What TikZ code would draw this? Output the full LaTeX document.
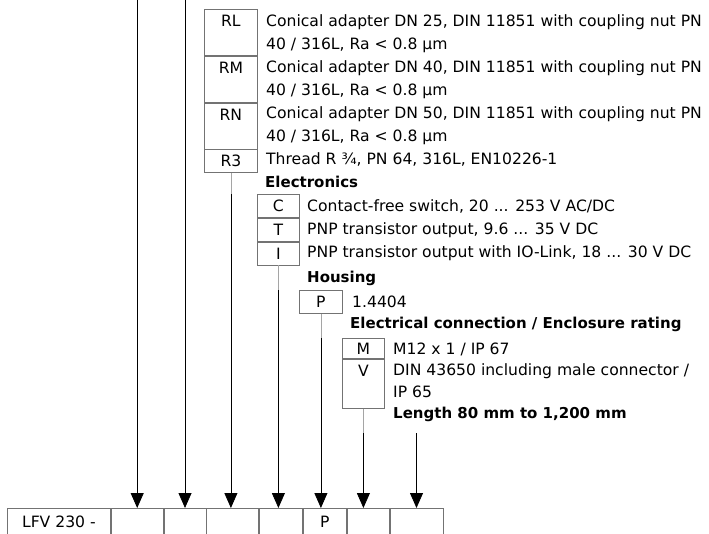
\documentclass[tikz,border=0pt]{standalone}
\usepackage{fontspec}
\setmainfont{DejaVu Sans}
\usetikzlibrary{calc,arrows.meta}
\definecolor{framegray}{RGB}{115,115,115}
\definecolor{stemgray}{RGB}{165,165,165}

\tikzset{
  cell/.style={draw=framegray, line width=0.8pt, anchor=north west, inner sep=0pt,
    text height=17pt, text depth=#1, font=\fontsize{15.6}{23}\selectfont},
  cell/.default=6pt,
  desc/.style={anchor=base west, inner sep=0pt, align=left, font=\fontsize{15.6}{23}\selectfont},
  head/.style={anchor=base west, inner sep=0pt, font=\fontsize{15}{18}\selectfont\bfseries},
  stem/.style={stemgray, line width=0.8pt},
  feed/.style={black, line width=0.8pt, -{Triangle[length=15pt, width=13pt]}},
}

\begin{document}
\begin{tikzpicture}[x=1pt, y=-1pt]
\useasboundingbox (0,0) rectangle (709,533);

% Process connection (two-line texts sit on their last baseline)
\node[cell=29pt, minimum width=53pt] (RL) at (204,9) {RL};
\node[cell=29pt, minimum width=53pt] (RM) at (RL.south west) {RM};
\node[cell=29pt, minimum width=53pt] (RN) at (RM.south west) {RN};
\node[cell, minimum width=53pt] (R3) at (RN.south west) {R3};
\node[desc] (dRL) at (266,49) {Conical adapter DN 25, DIN 11851 with coupling nut PN\\40 / 316L, Ra < 0.8 µm};
\node[desc] (dRM) at (266,95) {Conical adapter DN 40, DIN 11851 with coupling nut PN\\40 / 316L, Ra < 0.8 µm};
\node[desc] (dRN) at (266,141) {Conical adapter DN 50, DIN 11851 with coupling nut PN\\40 / 316L, Ra < 0.8 µm};
\node[desc] (dR3) at (266,164) {Thread R ¾, PN 64, 316L, EN10226-1};

% Electronics
\node[head] (hEl) at (265,187) {Electronics};
\node[cell, minimum width=42pt] (C) at (257,194) {C};
\node[cell, minimum width=42pt] (T) at (C.south west) {T};
\node[cell, minimum width=42pt] (I) at (T.south west) {I};
\node[desc] (dC) at (307,211) {Contact-free switch, 20 ... 253 V AC/DC};
\node[desc] (dT) at (307,234) {PNP transistor output, 9.6 ... 35 V DC};
\node[desc] (dI) at (307,257) {PNP transistor output with IO-Link, 18 ... 30 V DC};

% Housing
\node[head] (hHo) at (307,282) {Housing};
\node[cell, minimum width=43pt] (P) at (299,290) {P};
\node[desc] (dP) at (352,307) {1.4404};

% Electrical connection
\node[head] (hEc) at (350,328) {Electrical connection / Enclosure rating};
\node[cell=4pt, text height=16pt, minimum width=42pt] (M) at (342,338) {M};
\node[cell=32pt, minimum width=42pt] (V) at (M.south west) {V};
\node[desc] (dM) at (393,354) {M12 x 1 / IP 67};
\node[desc, font=\fontsize{15.6}{22}\selectfont] (dV) at (393,397) {DIN 43650 including male connector /\\IP 65};

% Length
\node[head] (hLe) at (393,418) {Length 80 mm to 1,200 mm};

% Type code at bottom
\node[cell=21pt, text height=19pt, minimum width=103pt] (c0) at (7,508) {LFV 230 -};
\node[cell=21pt, text height=19pt, minimum width=52pt] (c1) at (c0.north east) {};
\node[cell=21pt, text height=19pt, minimum width=42pt] (c2) at (c1.north east) {};
\node[cell=21pt, text height=19pt, minimum width=52pt] (c3) at (c2.north east) {};
\node[cell=21pt, text height=19pt, minimum width=43pt] (c4) at (c3.north east) {};
\node[cell=21pt, text height=19pt, minimum width=43pt] (c5) at (c4.north east) {P};
\node[cell=21pt, text height=19pt, minimum width=42pt] (c6) at (c5.north east) {};
\node[cell=21pt, text height=19pt, minimum width=53pt] (c7) at (c6.north east) {};

% Feed lines from the parts above the cut
\coordinate (t1) at (c1.north |- 0,0);
\coordinate (t2) at (c2.north |- 0,0);
\draw[feed] (t1) -- (c1.north);
\draw[feed] (t2) -- (c2.north);

% Stems and arrows
\coordinate (k3) at (R3.south |- C.north);
\draw[stem] (R3.south) -- (k3);
\draw[feed] (k3) -- (k3 |- c3.north);

\coordinate (k4) at (I.south |- P.north);
\draw[stem] (I.south) -- (k4);
\draw[feed] (k4) -- (k4 |- c4.north);

\coordinate (k5) at (P.south |- M.north);
\draw[stem] (P.south) -- (k5);
\draw[feed] (k5) -- (k5 |- c5.north);

\coordinate (kL) at (c7.north |- 0,433);
\coordinate (k6) at (V.south |- kL);
\draw[stem] (V.south) -- (k6);
\draw[feed] (k6) -- (k6 |- c6.north);
\draw[feed] (kL) -- (c7.north);
\end{tikzpicture}
\end{document}
